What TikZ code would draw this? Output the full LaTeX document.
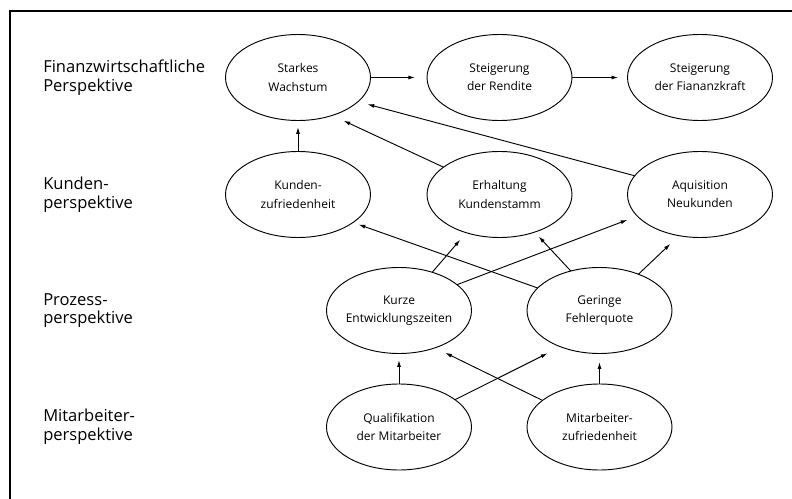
\documentclass[tikz,border=0pt]{standalone}
\usepackage{fontspec}
\setmainfont{Open Sans}
\usetikzlibrary{arrows.meta}
\usetikzlibrary{shapes.geometric}
\tikzset{ziel/.style={draw, ellipse, line width=0.7pt, minimum width=108.75pt,
   minimum height=64.5pt, inner xsep=-10pt, inner ysep=0pt, outer sep=0pt,
   align=center, font=\fontsize{9}{13.7}\selectfont},
 ebene/.style={anchor=west, align=left, inner sep=0pt,
   font=\fontsize{12.4}{14}\selectfont},
 pfeil/.style={line width=0.7pt, -{Latex[length=5pt,width=3pt]}},
 }

\begin{document}
\begin{tikzpicture}[x=0.75pt, y=-0.75pt]
        \useasboundingbox (0,0) rectangle (792,499);
        \draw[line width=0.8pt] (10,499) -- (10,11) -- (792,11);

        % Ebenen
        \node[ebene] (fp) at (43,77.5) {Finanzwirtschaftliche\\Perspektive};
        \node[ebene] (kp) at (43,194.5) {Kunden-\\perspektive};
        \node[ebene] (pp) at (43,310.5) {Prozess-\\perspektive};
        \node[ebene] (mp) at (43,427) {Mitarbeiter-\\perspektive};

        % Ziele
        \node[ziel] (sw) at (298,77.5) {Starkes\\Wachstum};
        \node[ziel] (ren) at (499.5,77.5) {Steigerung\\der Rendite};
        \node[ziel] (fin) at (700,77.5) {Steigerung\\der Fiananzkraft};

        \node[ziel] (kz) at (298,194.5) {Kunden-\\zufriedenheit};
        \node[ziel] (erh) at (499.5,194.5) {Erhaltung\\Kundenstamm};
        \node[ziel] (aqu) at (700,194.5) {Aquisition\\Neukunden};

        \node[ziel] (kur) at (399,310.5) {Kurze\\Entwicklungszeiten};
        \node[ziel] (ger) at (599.5,310.5) {Geringe\\Fehlerquote};

        \node[ziel] (qua) at (399,427) {Qualifikation\\der Mitarbeiter};
        \node[ziel] (miz) at (599.5,427) {Mitarbeiter-\\zufriedenheit};

        % Wirkungen
        \draw[pfeil, shorten >=9pt] (sw.east) -- (ren.west);
        \draw[pfeil, shorten >=7pt] (ren.east) -- (fin.west);
        \draw[pfeil, shorten >=5pt] (kz.north) -- (sw.south);
        \draw[pfeil, shorten >=9.5pt] (erh.154) -- (sw.-48);
        \draw[pfeil, shorten >=7.5pt] (aqu.164) -- (sw.-22);
        \draw[pfeil, shorten >=4.5pt] (ger.160) -- (kz.-27);
        \draw[pfeil, shorten >=7pt] (kur.49) -- (erh.-131);
        \draw[pfeil, shorten >=8pt] (kur.24) -- (aqu.-161);
        \draw[pfeil, shorten >=4.5pt] (ger.126) -- (erh.-47);
        \draw[pfeil, shorten >=9pt] (ger.43) -- (aqu.-117);

        \draw[pfeil, shorten >=5pt] (qua.north) -- (kur.south);
        \draw[pfeil, shorten >=11pt] (qua.26) -- (ger.-137);
        \draw[pfeil, shorten >=8.5pt] (miz.155) -- (kur.-46);
        \draw[pfeil, shorten >=6.5pt] (miz.north) -- (ger.south);
\end{tikzpicture}
\end{document}
